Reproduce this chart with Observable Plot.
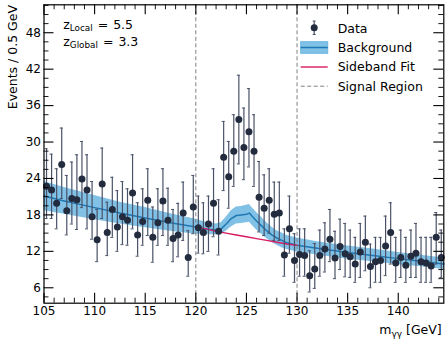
<!DOCTYPE html>
<html><head><meta charset="utf-8">
<script src="https://cdn.jsdelivr.net/npm/d3@7"></script>
<script src="https://cdn.jsdelivr.net/npm/@observablehq/plot@0.6"></script>
<style>
body{margin:0;background:#fff}
#chart{position:relative;width:448px;height:344px}
</style>
</head><body><div id="chart"></div>
<script>
// ---- data ----
const massBins = [105.25,105.75,106.25,106.75,107.25,107.75,108.25,108.75,109.25,109.75,
110.25,110.75,111.25,111.75,112.25,112.75,113.25,113.75,114.25,114.75,
115.25,115.75,116.25,116.75,117.25,117.75,118.25,118.75,119.25,119.75,
120.25,120.75,121.25,121.75,122.25,122.75,123.25,123.75,124.25,124.75,
125.25,125.75,126.25,126.75,127.25,127.75,128.25,128.75,129.25,129.75,
130.25,130.75,131.25,131.75,132.25,132.75,133.25,133.75,134.25,134.75,
135.25,135.75,136.25,136.75,137.25,137.75,138.25,138.75,139.25,139.75,
140.25,140.75,141.25,141.75,142.25,142.75,143.25,143.75,144.25];
const events = [22.7,22.1,19.9,26.3,18.7,20.7,20.5,23.9,22.1,17.7,
13.9,23.1,15.1,18.9,16.0,17.7,17.1,21.6,14.7,16.9,
20.4,14.3,16.7,20.3,17.1,14.1,14.7,18.3,11.0,19.3,
15.9,15.1,16.5,19.9,15.3,27.5,24.3,28.5,33.7,29.1,
31.7,28.5,20.9,19.1,20.4,18.1,18.3,11.4,15.7,10.5,
11.5,11.3,8.0,9.1,11.3,12.4,14.0,10.9,12.8,11.6,
11.1,9.9,11.9,13.5,9.5,10.3,10.5,12.9,15.1,10.1,
11.0,9.7,11.2,11.7,10.3,10.1,9.6,14.3,11.0];
const errHigh = [28.9,28.0,25.6,32.3,24.5,26.7,27.9,30.1,27.9,23.5,
18.9,29.0,20.1,24.2,22.0,23.5,22.3,27.9,20.0,22.3,
25.6,19.3,22.3,25.6,22.4,18.9,19.9,23.4,15.4,24.5,
21.1,20.0,21.1,25.6,20.5,33.4,30.1,34.5,41.0,35.6,
38.8,34.5,26.8,24.6,25.6,23.4,23.4,15.7,21.1,14.9,
15.7,15.7,12.1,13.3,15.5,16.7,18.9,15.3,17.3,16.6,
15.5,14.3,16.6,17.8,13.2,14.3,14.3,17.8,20.0,14.3,
15.5,14.3,15.5,16.6,14.3,14.3,14.3,18.4,15.5];
const errLow = [17.4,17.4,15.7,20.7,14.7,16.5,15.6,19.2,15.7,14.0,
10.3,17.4,11.3,14.3,12.0,13.1,13.0,15.7,11.2,13.0,
14.6,10.2,13.0,14.6,13.0,10.3,11.1,13.8,7.9,14.9,
11.7,11.6,12.0,14.4,11.4,22.0,19.1,22.7,26.4,23.8,
25.9,22.7,15.2,14.6,15.0,13.8,13.8,7.9,11.7,6.9,
7.9,7.9,5.3,5.9,7.9,8.6,10.3,7.5,9.0,7.8,
7.7,6.9,7.7,8.8,6.0,6.9,6.9,8.0,9.9,6.9,
7.7,6.9,7.7,7.7,6.9,6.9,6.9,9.9,7.7];

const bkgMass = [105,107,110,112.5,115,117.5,120,121,122,122.5,123,123.5,124,124.5,125,125.3,125.5,126,126.5,127,127.5,128,128.5,129,130,132,135,137.5,140,142,144.5];
const bkgValue = [21.1,20.3,19.2,18.3,17.5,16.7,16.0,15.7,15.5,15.7,16.5,17.4,17.9,18.0,18.1,18.3,17.9,17.0,16.2,15.4,14.7,14.2,13.8,13.4,13.0,12.5,11.8,11.3,10.8,10.4,9.9];
const bkgLow   = [18.7,18.1,17.2,16.5,15.9,15.3,14.8,14.8,14.7,14.8,15.3,16.0,16.5,16.6,16.7,16.8,16.4,15.5,14.8,14.1,13.5,13.0,12.6,12.3,11.9,11.4,10.7,10.3,9.8,9.5,9.0];
const bkgHigh  = [23.5,22.5,21.2,20.1,19.2,18.2,17.3,16.8,16.5,16.7,17.6,18.7,19.3,19.4,19.6,19.7,19.3,18.4,17.6,16.7,16.0,15.4,15.0,14.6,14.2,13.6,12.9,12.4,11.8,11.4,10.9];

const sbMass  = [120.25,121,122,123,124,125,126,127,128,129,130];
const sbValue = [15.95,15.7,15.3,15.0,14.7,14.4,14.1,13.8,13.5,13.2,13.0];

const signalEdges = [120, 130];
const xMajor = [105,110,115,120,125,130,135,140];
const xMinor = [106,107,108,109,111,112,113,114,116,117,118,119,121,122,123,124,126,127,128,129,131,132,133,134,136,137,138,139,141,142,143,144];
const yMajor = [6,12,18,24,30,36,42,48];
const yMinor = [4.5,7.5,9,10.5,13.5,15,16.5,19.5,21,22.5,25.5,27,28.5,31.5,33,34.5,37.5,39,40.5,43.5,45,46.5,49.5,51,52.5];

const legendLabels = ["Data", "Background", "Sideband Fit", "Signal Region"];

// ---- tables ----
const points = massBins.map((m, i) => ({m, v: events[i], lo: errLow[i], hi: errHigh[i]}));
const bkg = bkgMass.map((m, i) => ({m, v: bkgValue[i], lo: bkgLow[i], hi: bkgHigh[i]}));
const sb = sbMass.map((m, i) => ({m, v: sbValue[i]}));

const W = 448, H = 344, mL = 43.5, mR = 4.7, mT = 4.3, mB = 41.3;
const innerW = W - mL - mR, innerH = H - mT - mB;
const major = 10, minor = 5;
const navy = "#232b3e";
const barColor = "#4a5268";

const chart = Plot.plot({
  width: W, height: H,
  marginLeft: mL, marginRight: mR, marginTop: mT, marginBottom: mB,
  x: {domain: [105, 144.5]},
  y: {domain: [3.46, 52.6]},
  style: {fontFamily: "DejaVu Sans", fontSize: "12px", color: "#000", background: "#fff", overflow: "visible"},
  marks: [
    Plot.areaY(bkg, {x: "m", y1: "lo", y2: "hi", fill: "#6bb6e0", fillOpacity: 0.85}),
    Plot.lineY(bkg, {x: "m", y: "v", stroke: "#1f77b4", strokeWidth: 1.5}),
    Plot.lineY(sb, {x: "m", y: "v", stroke: "#d81b60", strokeWidth: 1.4}),
    Plot.ruleX(signalEdges, {x: d => d, stroke: "#808080", strokeWidth: 1, strokeDasharray: "4,2.5"}),
    Plot.ruleX(points, {x: "m", y1: "lo", y2: "hi", stroke: barColor, strokeWidth: 1.2}),
    Plot.ruleY(points, {y: "hi", x1: d => d.m - 0.15, x2: d => d.m + 0.15, stroke: barColor, strokeWidth: 1}),
    Plot.ruleY(points, {y: "lo", x1: d => d.m - 0.15, x2: d => d.m + 0.15, stroke: barColor, strokeWidth: 1}),
    Plot.dot(points, {x: "m", y: "v", r: 3.5, fill: navy, stroke: "none"}),
    // inward ticks
    Plot.tickX(xMajor, {x: d => d, insetTop: innerH - major, stroke: "#000", strokeWidth: 1.1}),
    Plot.tickX(xMajor, {x: d => d, insetBottom: innerH - major, stroke: "#000", strokeWidth: 1.1}),
    Plot.tickX(xMinor, {x: d => d, insetTop: innerH - minor, stroke: "#000", strokeWidth: 0.9}),
    Plot.tickX(xMinor, {x: d => d, insetBottom: innerH - minor, stroke: "#000", strokeWidth: 0.9}),
    Plot.tickY(yMajor, {y: d => d, insetRight: innerW - major, stroke: "#000", strokeWidth: 1.1}),
    Plot.tickY(yMajor, {y: d => d, insetLeft: innerW - major, stroke: "#000", strokeWidth: 1.1}),
    Plot.tickY(yMinor, {y: d => d, insetRight: innerW - minor, stroke: "#000", strokeWidth: 0.9}),
    Plot.tickY(yMinor, {y: d => d, insetLeft: innerW - minor, stroke: "#000", strokeWidth: 0.9}),
    Plot.axisX(xMajor, {tickSize: 0, tickPadding: 3, label: null, fontSize: 12}),
    Plot.axisY(yMajor, {tickSize: 0, tickPadding: 3, label: null, fontSize: 12}),
    Plot.frame({stroke: "#000", strokeWidth: 1.2})
  ]
});
document.getElementById("chart").appendChild(chart);

// ---- labels, annotation, legend ----
const svg = d3.select(chart);
const F = "DejaVu Sans";
svg.append("text").attr("transform", "translate(16.5,5) rotate(-90)")
  .attr("text-anchor", "end").attr("font-family", F).attr("font-size", 12.5).attr("fill", "#000")
  .text("Events / 0.5 GeV");
const xl = svg.append("text").attr("x", 441.7).attr("y", 334.3).attr("text-anchor", "end")
  .attr("font-family", F).attr("font-size", 12.5).attr("fill", "#000");
xl.append("tspan").text("m");
xl.append("tspan").attr("font-size", 9).attr("dy", 2.5).text("γγ");
xl.append("tspan").attr("dy", -2.5).text(" [GeV]");

function zText(y, sub, val) {
  const t = svg.append("text").attr("x", 63.3).attr("y", y).attr("text-anchor", "start")
    .attr("font-family", F).attr("font-size", 12.5).attr("fill", "#000");
  t.append("tspan").text("z");
  t.append("tspan").attr("font-size", 8.8).attr("dy", 2.2).text(sub);
  t.append("tspan").attr("dy", -2.2).attr("dx", 5).text("=");
  t.append("tspan").attr("dx", 5).text(val);
}
zText(28.8, "Local", "5.5");
zText(46, "Global", "3.3");

const lg = svg.append("g");
const lx0 = 300.7, lx1 = 327.7, tx = 337.7;
lg.append("line").attr("x1", 314.2).attr("x2", 314.2).attr("y1", 21).attr("y2", 34.5).attr("stroke", barColor).attr("stroke-width", 1.2);
lg.append("line").attr("x1", 312.7).attr("x2", 315.7).attr("y1", 21).attr("y2", 21).attr("stroke", barColor);
lg.append("line").attr("x1", 312.7).attr("x2", 315.7).attr("y1", 34.5).attr("y2", 34.5).attr("stroke", barColor);
lg.append("circle").attr("cx", 314.2).attr("cy", 27.8).attr("r", 3.5).attr("fill", navy);
lg.append("rect").attr("x", lx0).attr("y", 41.7).attr("width", lx1 - lx0).attr("height", 11.6).attr("fill", "#6bb6e0").attr("fill-opacity", 0.85).attr("stroke", "#6bb6e0");
lg.append("line").attr("x1", lx0).attr("x2", lx1).attr("y1", 47.5).attr("y2", 47.5).attr("stroke", "#1f77b4").attr("stroke-width", 1.5);
lg.append("line").attr("x1", lx0).attr("x2", lx1).attr("y1", 67).attr("y2", 67).attr("stroke", "#d81b60").attr("stroke-width", 1.4);
lg.append("line").attr("x1", lx0).attr("x2", lx1).attr("y1", 86.2).attr("y2", 86.2).attr("stroke", "#808080").attr("stroke-dasharray", "4,2.5");
const ys = [32.6, 52, 71.3, 90.6];
legendLabels.forEach((s, i) => lg.append("text").attr("x", tx).attr("y", ys[i]).attr("text-anchor", "start")
  .attr("font-family", F).attr("font-size", 12.5).attr("fill", "#000").text(s));
</script>
</body></html>
